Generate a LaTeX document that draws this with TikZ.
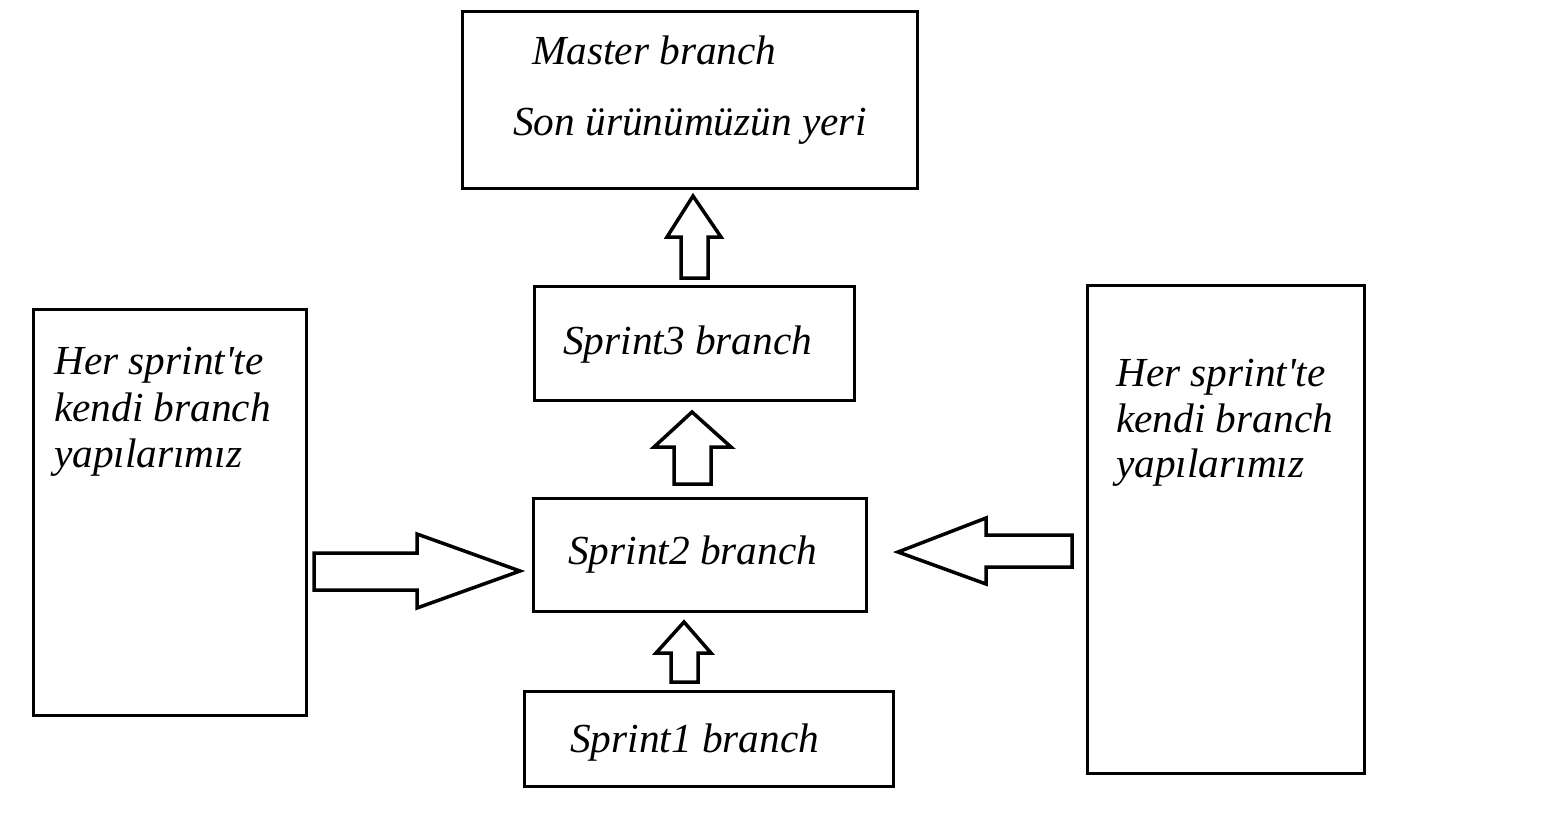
\documentclass[tikz,border=0pt]{standalone}
\usepackage{fontspec}
\setmainfont{Liberation Serif}[Ligatures=TeXOff]
\begin{document}
\begin{tikzpicture}[x=1pt,y=-1pt,
  box/.style={draw=black,line width=3pt},
  blockarrow/.style={draw=black,line width=3.5pt,line join=miter,fill=white},
  lbl/.style={anchor=base west,inner sep=0pt,font=\fontsize{41.3}{47}\selectfont\itshape}]
\useasboundingbox (0,0) rectangle (1546,823);
% boxes
\draw[box] (462,11) rectangle (917,188);
\draw[box] (534,286) rectangle (854,400);
\draw[box] (533,498) rectangle (866,611);
\draw[box] (524,691) rectangle (893,786);
\draw[box] (33,309) rectangle (306,715);
\draw[box] (1087,285) rectangle (1364,773);
% texts
\node[lbl] (m1) at (532,64) {Master branch};
\node[lbl] (m2) at (513,135) {Son ürünümüzün yeri};
\node[lbl] (s3) at (563,354) {Sprint3 branch};
\node[lbl] (s2) at (568,564) {Sprint2 branch};
\node[lbl] (s1) at (570,752) {Sprint1 branch};
\node[lbl] (l1) at (54,374) {Her sprint'te};
\node[lbl] (l2) at (54,421) {kendi branch};
\node[lbl] (l3) at (54,467) {yapılarımız};
\node[lbl] (r1) at (1116,386) {Her sprint'te};
\node[lbl] (r2) at (1116,432) {kendi branch};
\node[lbl] (r3) at (1116,477) {yapılarımız};
% block arrows
\draw[blockarrow] (693,196) -- (721,237) -- (708,237) -- (708,278) -- (681,278) -- (681,237) -- (667,237) -- cycle;
\draw[blockarrow] (692,412) -- (731,447) -- (711,447) -- (711,484) -- (674,484) -- (674,447) -- (654,447) -- cycle;
\draw[blockarrow] (684,622) -- (711,653) -- (698,653) -- (698,682) -- (671,682) -- (671,653) -- (656,653) -- cycle;
\draw[blockarrow] (520,571) -- (417,608) -- (417,590) -- (314,590) -- (314,553) -- (417,553) -- (417,534) -- cycle;
\draw[blockarrow] (898,552) -- (986,518) -- (986,535) -- (1072,535) -- (1072,567) -- (986,567) -- (986,584) -- cycle;
\end{tikzpicture}
\end{document}
